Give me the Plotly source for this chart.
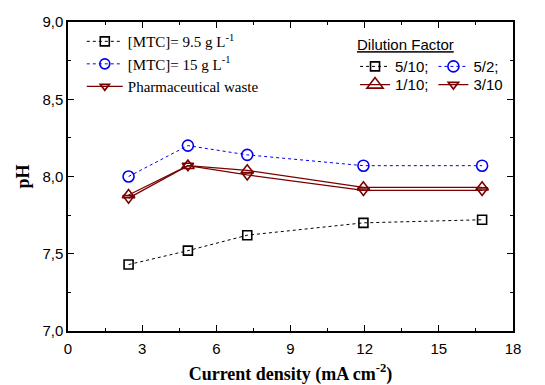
import plotly.graph_objects as go

# Data
current_density = [2.45, 4.85, 7.25, 11.95, 16.75]
ph_mtc_95 = [7.43, 7.52, 7.62, 7.70, 7.72]      # dilution 5/10
ph_mtc_15 = [8.00, 8.20, 8.14, 8.07, 8.07]      # dilution 5/2
ph_waste_110 = [7.88, 8.07, 8.04, 7.93, 7.93]   # dilution 1/10
ph_waste_310 = [7.86, 8.07, 8.01, 7.91, 7.91]   # dilution 3/10

x_ticks = [0, 3, 6, 9, 12, 15, 18]
y_ticks = [7.0, 7.5, 8.0, 8.5, 9.0]

BLACK = "#000000"
BLUE = "#0000ee"
RED = "#7a0000"

SERIF = "Liberation Serif, Times New Roman"
SANS = "Liberation Sans, Arial"

fig = go.Figure()


def series(x, y, name, color, dash, symbol, size, legend=None, lw=1.0):
    return go.Scatter(
        x=x, y=y, mode="lines+markers", name=name,
        legend=legend if legend else "legend", showlegend=legend is not None,
        line=dict(color=color, dash=dash, width=lw),
        marker=dict(symbol=symbol, size=size, color=color, line=dict(width=1.6)))


# Visible series
fig.add_trace(series(current_density, ph_mtc_95, "5/10", BLACK, "dot", "square-open", 9))
fig.add_trace(series(current_density, ph_mtc_15, "5/2", BLUE, "dot", "circle-open", 11))
fig.add_trace(series(current_density, ph_waste_110, "1/10", RED, "solid", "triangle-up-open", 11, lw=1.3))
fig.add_trace(series(current_density, ph_waste_310, "3/10", RED, "solid", "triangle-down-open", 10, lw=1.3))

# Main legend entries
fig.add_trace(series([None], [None], "[MTC]= 9.5 g L<sup>-1</sup>", BLACK, "dot", "square-open", 9, "legend"))
fig.add_trace(series([None], [None], "[MTC]= 15 g L<sup>-1</sup>", BLUE, "dot", "circle-open", 10, "legend"))
fig.add_trace(series([None], [None], "Pharmaceutical waste", RED, "solid", "triangle-down-open", 8, "legend", lw=1.3))

# Dilution factor legend entries
fig.add_trace(series([None], [None], "5/10;", BLACK, "dot", "square-open", 9, "legend2"))
fig.add_trace(series([None], [None], "5/2;", BLUE, "dot", "circle-open", 11, "legend2"))
fig.add_trace(series([None], [None], "1/10;", RED, "solid", "triangle-up-open", 14, "legend3", lw=1.3))
fig.add_trace(series([None], [None], "3/10", RED, "solid", "triangle-down-open", 9, "legend3", lw=1.3))

axis_common = dict(
    showline=True, linecolor="black", linewidth=1.5, mirror="ticks",
    ticks="inside", ticklen=6, tickwidth=1.2, tickcolor="black",
    showgrid=False, zeroline=False, automargin=False,
    tickfont=dict(family=SANS, size=15, color="black"),
)

fig.update_layout(
    width=545, height=385,
    margin=dict(l=68, r=32, t=22, b=54),
    paper_bgcolor="white", plot_bgcolor="white",
    separators=",.",
    xaxis=dict(
        range=[0, 18], tickvals=x_ticks, ticktext=[str(v) for v in x_ticks],
        ticklabelstandoff=3,
        minor=dict(dtick=1.5, tick0=0, ticks="inside", ticklen=3, tickcolor="black"),
        title=dict(text="<b>Current density (mA cm<sup>-2</sup>)</b>",
                   font=dict(family=SERIF, size=18, color="black"),
                   standoff=14),
        **axis_common),
    yaxis=dict(
        range=[7, 9], tickvals=y_ticks, tickformat=".1f",
        minor=dict(dtick=0.25, tick0=7, ticks="inside", ticklen=3, tickcolor="black"),
        title=dict(text="<b>pH</b>",
                   font=dict(family=SERIF, size=18, color="black"),
                   standoff=8),
        **axis_common),
    legend=dict(
        x=0.031, y=0.99, xanchor="left", yanchor="top",
        bgcolor="rgba(0,0,0,0)", borderwidth=0,
        font=dict(family=SERIF, size=15, color="black"),
        tracegroupgap=0, itemwidth=36),
    legend2=dict(
        x=0.645, y=0.972, xanchor="left", yanchor="top", orientation="h",
        bgcolor="rgba(0,0,0,0)", borderwidth=0,
        title=dict(text="<u>Dilution Factor</u>", side="top",
                   font=dict(family=SANS, size=15, color="black")),
        font=dict(family=SANS, size=15, color="black"),
        itemwidth=30),
    legend3=dict(
        x=0.645, y=0.85, xanchor="left", yanchor="top", orientation="h",
        bgcolor="rgba(0,0,0,0)", borderwidth=0,
        font=dict(family=SANS, size=15, color="black"),
        itemwidth=30),
)

fig.write_html("out.html")
